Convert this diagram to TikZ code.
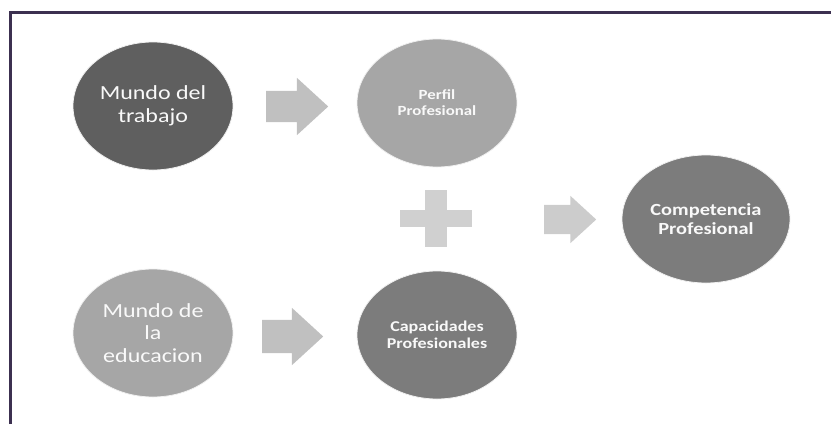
\documentclass[tikz,border=0pt]{standalone}
\usepackage{fontspec}
\newfontfamily\carlito[FakeStretch=1.2]{Carlito}
\usetikzlibrary{shapes.geometric,shapes.arrows}
\definecolor{framecol}{HTML}{3C3050}
\definecolor{darkblob}{HTML}{5F5F5F}
\definecolor{midblob}{HTML}{7C7C7C}
\definecolor{lightblob}{HTML}{A6A6A6}
\definecolor{arrowgray}{HTML}{C0C0C0}
\definecolor{plusgray}{HTML}{D0D0D0}

\begin{document}
\begin{tikzpicture}[x=1pt,y=-1pt,
   blob/.style={ellipse,minimum width=160pt,minimum height=128pt,inner sep=0pt,
                draw=white!88!gray,line width=0.8pt,text=white!95!gray,align=center},
   bigtxt/.style={font=\carlito\fontsize{20}{22.5}\selectfont},
   smalltxt/.style={font=\carlito\bfseries\fontsize{14}{16}\selectfont},
   blockarrow/.style={single arrow,fill=arrowgray,draw=none,inner xsep=0pt,anchor=tail,
                inner ysep=15.5pt,minimum height=62pt,single arrow head extend=13pt,
                single arrow tip angle=85}]
   \useasboundingbox (0,0) rectangle (831,424);
   \draw[framecol,line width=3pt] (10,424) -- (10,12.5) -- (831,12.5);

   % circles
   \node[blob,fill=darkblob,bigtxt] (trabajo) at (153,106) {Mundo del\\trabajo};
   \node[blob,fill=lightblob,smalltxt] (perfil) at (437,103) {Perfil\\Profesional};
   \node[blob,fill=lightblob,bigtxt] (educacion) at (153,333) {Mundo de\\la\\educacion};
   \node[blob,fill=midblob,smalltxt,font=\carlito\bfseries\fontsize{15}{17}\selectfont] (capacidades) at (437,335) {Capacidades\\Profesionales};
   \node[blob,fill=midblob,minimum width=168pt,font=\carlito\bfseries\fontsize{17}{19}\selectfont] (competencia) at (706,219) {Competencia\\Profesional};

   % block arrows
   \node[blockarrow] (ar1) at (266,106.5) {};
   \node[blockarrow,inner ysep=16.5pt,single arrow head extend=12pt,minimum height=61pt] (ar2) at (262,336.5) {};
   \node[blockarrow,fill=plusgray!95!gray,inner ysep=14.5pt,single arrow head extend=9pt,minimum height=52pt] (ar3) at (544,219.5) {};

   % plus
   \coordinate (plus) at (436,218.5);
   \fill[plusgray] ([xshift=-36pt,yshift=-8.5pt]plus) rectangle ([xshift=36pt,yshift=8.5pt]plus);
   \fill[plusgray] ([xshift=-11pt,yshift=-28.5pt]plus) rectangle ([xshift=11pt,yshift=28.5pt]plus);
\end{tikzpicture}
\end{document}
